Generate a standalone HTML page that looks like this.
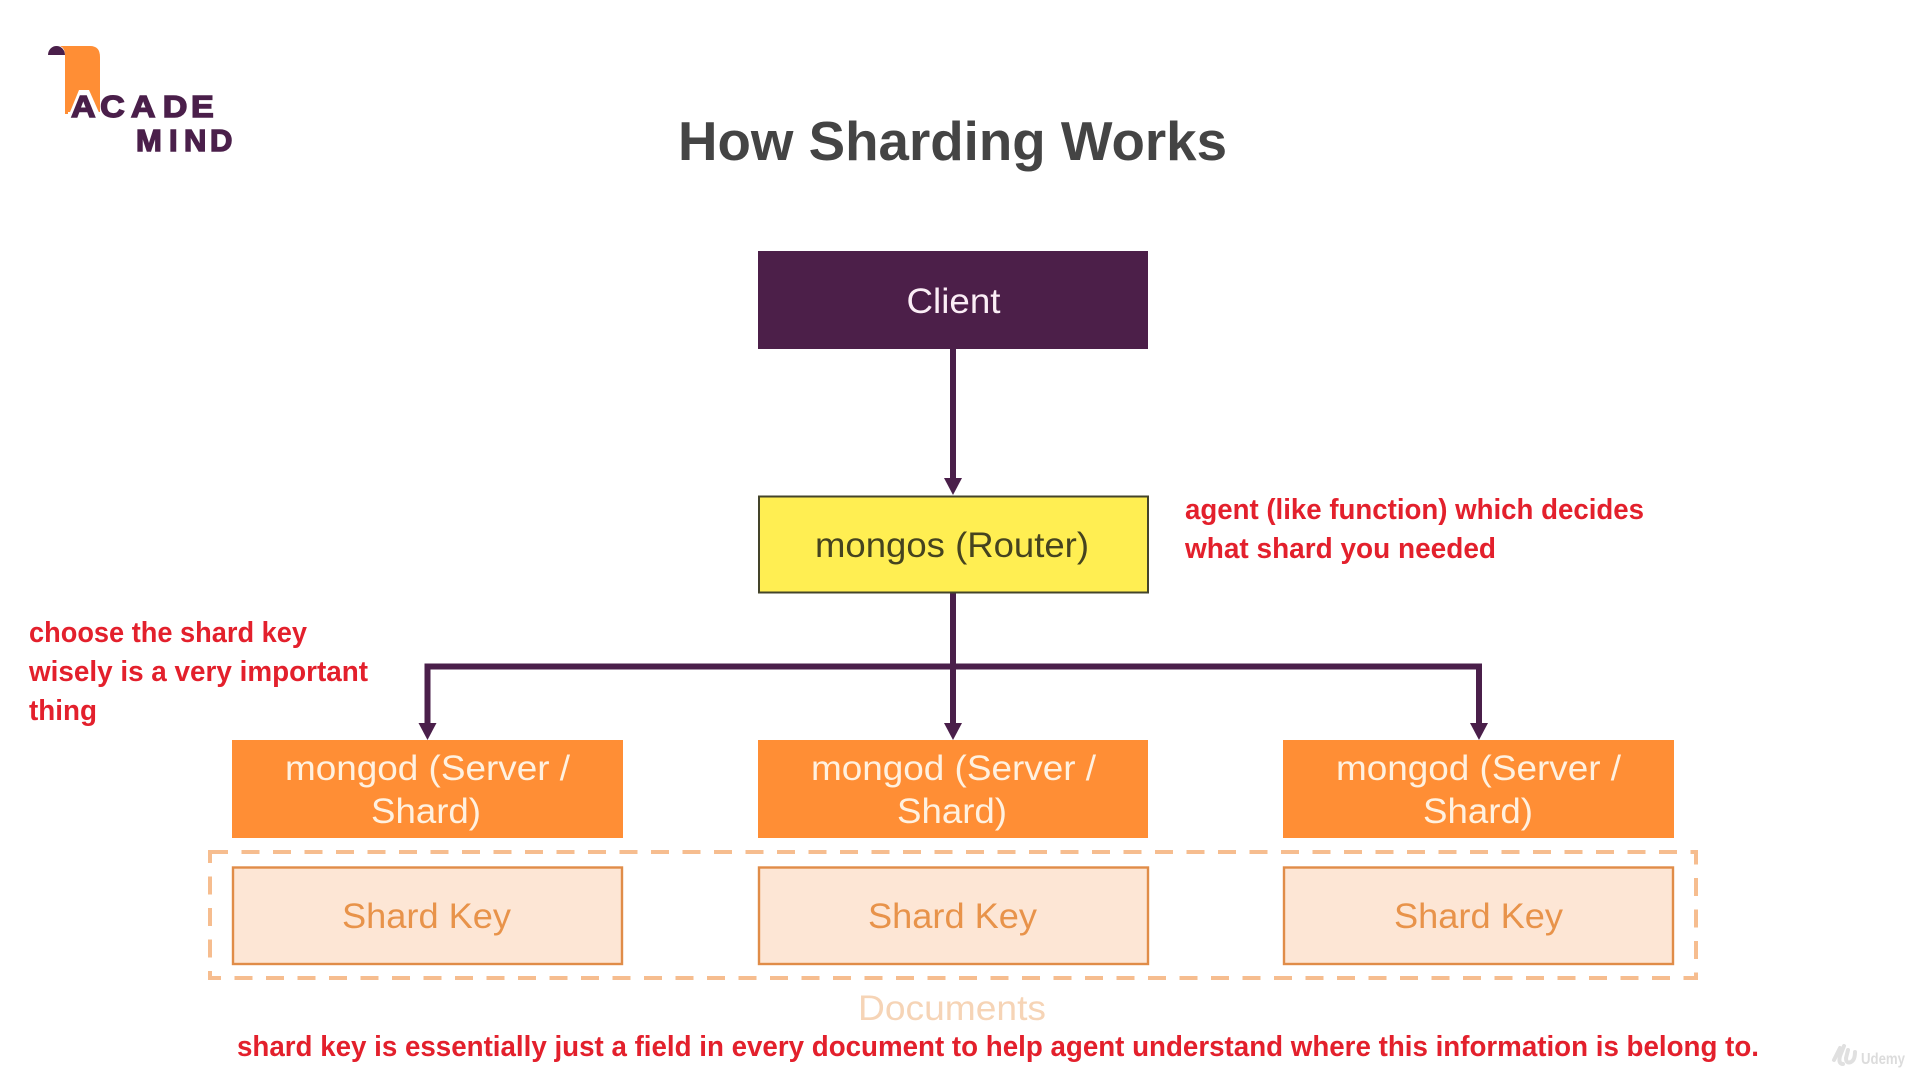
<!DOCTYPE html>
<html>
<head>
<meta charset="utf-8">
<style>
html,body{margin:0;padding:0;background:#fff;width:1913px;height:1079px;overflow:hidden}
svg{display:block}
text{font-family:"Liberation Sans",sans-serif}
.r{fill:#e3202c;font-weight:700;font-size:29px}
.w{fill:#fff1e0;font-size:35px}
.k{fill:#e8934a;font-size:35px}
</style>
</head>
<body>
<svg width="1913" height="1079" viewBox="0 0 1913 1079" xmlns="http://www.w3.org/2000/svg">
<rect width="1913" height="1079" fill="#ffffff"/>

<!-- logo -->
<path d="M48 55 A8.500 9 0 0 1 65 55 Z" fill="#4a1f4a"/>
<path d="M60 46 H90 Q100 46 100 57 V112 H65 V55 Q65 48 60 46 Z" fill="#ff8e35"/>
<path d="M68 117 L79 90 H89 L101 117 Z" fill="#ffffff"/>
<rect x="65" y="112" width="3" height="2" fill="#ff8e35"/>
<g transform="translate(0,117) scale(1.1,1)">
<text x="64.500 91 119 148 173.600" y="0" font-size="31" font-weight="700" fill="#4a1f4a" stroke="#4a1f4a" stroke-width="1.400">ACADE</text>
</g>
<text x="136 169 184 210" y="151" font-size="31" font-weight="700" fill="#4a1f4a" stroke="#4a1f4a" stroke-width="1.400">MIND</text>

<!-- title -->
<text x="678" y="160" font-size="55" font-weight="700" fill="#444444" textLength="549" lengthAdjust="spacingAndGlyphs">How Sharding Works</text>

<!-- connectors -->
<g fill="none" stroke="#4a1f4a" stroke-width="6">
<path d="M953 349 V482"/>
<path d="M953 593 V725"/>
<path d="M427.500 725 V666.500 H1479 V725"/>
</g>
<g fill="#4a1f4a">
<path d="M944 478 H962 L953 495 Z"/>
<path d="M418.500 723 H436.500 L427.500 740 Z"/>
<path d="M944 723 H962 L953 740 Z"/>
<path d="M1470 723 H1488 L1479 740 Z"/>
</g>

<!-- client -->
<rect x="758" y="251" width="390" height="98" fill="#4c1f49"/>
<text x="953.500" y="313" font-size="35" fill="#fbeef6" text-anchor="middle" textLength="94" lengthAdjust="spacingAndGlyphs">Client</text>

<!-- router -->
<rect x="759" y="496.500" width="389" height="96" fill="#ffee52" stroke="#44442a" stroke-width="2"/>
<text x="815" y="557" font-size="35" fill="#45431f" textLength="274" lengthAdjust="spacingAndGlyphs">mongos (Router)</text>

<!-- mongod boxes -->
<rect x="232" y="740" width="391" height="98" fill="#ff8e35"/>
<rect x="758" y="740" width="390" height="98" fill="#ff8e35"/>
<rect x="1283" y="740" width="391" height="98" fill="#ff8e35"/>

<text class="w" x="285" y="780" textLength="285" lengthAdjust="spacingAndGlyphs">mongod (Server /</text>
<text class="w" x="371" y="823" textLength="110" lengthAdjust="spacingAndGlyphs">Shard)</text>
<text class="w" x="811" y="780" textLength="285" lengthAdjust="spacingAndGlyphs">mongod (Server /</text>
<text class="w" x="897" y="823" textLength="110" lengthAdjust="spacingAndGlyphs">Shard)</text>
<text class="w" x="1336" y="780" textLength="285" lengthAdjust="spacingAndGlyphs">mongod (Server /</text>
<text class="w" x="1423" y="823" textLength="110" lengthAdjust="spacingAndGlyphs">Shard)</text>

<!-- dashed group -->
<rect x="210" y="852" width="1486" height="126" fill="none" stroke="#f6bd8f" stroke-width="4" stroke-dasharray="18 13.500"/>

<!-- shard key boxes -->
<rect x="233" y="867.500" width="389" height="96.500" fill="#fde6d5" stroke="#e08c48" stroke-width="2.400"/>
<rect x="759" y="867.500" width="389" height="96.500" fill="#fde6d5" stroke="#e08c48" stroke-width="2.400"/>
<rect x="1284" y="867.500" width="389" height="96.500" fill="#fde6d5" stroke="#e08c48" stroke-width="2.400"/>
<text class="k" x="342" y="928" textLength="169" lengthAdjust="spacingAndGlyphs">Shard Key</text>
<text class="k" x="868" y="928" textLength="169" lengthAdjust="spacingAndGlyphs">Shard Key</text>
<text class="k" x="1394" y="928" textLength="169" lengthAdjust="spacingAndGlyphs">Shard Key</text>

<text x="858" y="1020" font-size="35" fill="#f6d4b6" textLength="188" lengthAdjust="spacingAndGlyphs">Documents</text>

<!-- red annotations -->
<text class="r" x="1185" y="519" textLength="459" lengthAdjust="spacingAndGlyphs">agent (like function) which decides</text>
<text class="r" x="1185" y="558" textLength="311" lengthAdjust="spacingAndGlyphs">what shard you needed</text>
<text class="r" x="29" y="642" textLength="278" lengthAdjust="spacingAndGlyphs">choose the shard key</text>
<text class="r" x="29" y="681" textLength="339" lengthAdjust="spacingAndGlyphs">wisely is a very important</text>
<text class="r" x="29" y="720" textLength="68" lengthAdjust="spacingAndGlyphs">thing</text>
<text class="r" x="237" y="1056" textLength="1522" lengthAdjust="spacingAndGlyphs">shard key is essentially just a field in every document to help agent understand where this information is belong to.</text>

<!-- watermark -->
<text x="1861" y="1064" font-size="16" font-weight="700" fill="#dcdcdc" textLength="44" lengthAdjust="spacingAndGlyphs">Udemy</text>
<path d="M1834 1060 L1840 1048 M1843 1064 Q1838 1064 1840 1056 L1844 1046 M1848 1050 L1846 1058 Q1846 1064 1851 1062 Q1855 1060 1855 1052" fill="none" stroke="#e0e0e0" stroke-width="4" stroke-linecap="round"/>
</svg>
</body>
</html>
